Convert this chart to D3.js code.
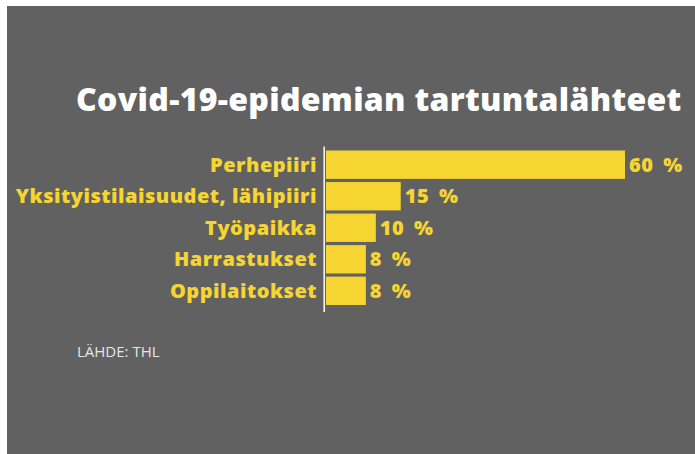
<!DOCTYPE html>
<html>
<head>
<meta charset="utf-8">
<script src="https://cdn.jsdelivr.net/npm/d3@7"></script>
<style>
  html, body { margin: 0; padding: 0; background: #ffffff; }
  svg { display: block; }
</style>
</head>
<body>
<svg id="chart" width="695" height="454"></svg>
<script>
// Sources of Covid-19 infections (share of cases, %)
const categories = ["Perhepiiri", "Yksityistilaisuudet, lähipiiri", "Työpaikka", "Harrastukset", "Oppilaitokset"];
const values = [60, 15, 10, 8, 8];
const titleText = "Covid-19-epidemian tartuntalähteet";
const sourceText = "LÄHDE: THL";

const W = 695, H = 454;
const bg = "#616161";
const yellow = "#f6d532";
const font = "'Open Sans', 'DejaVu Sans', sans-serif";

const svg = d3.select("#chart");

// Gray panel (white strip at left and top edges)
svg.append("rect").attr("x", 7).attr("y", 6).attr("width", W - 7).attr("height", H - 6).attr("fill", bg);

// Title
svg.append("text")
  .attr("x", 76).attr("y", 111)
  .attr("fill", "#ffffff")
  .attr("font-family", font)
  .attr("font-weight", 800)
  .attr("font-size", 32)
  .attr("letter-spacing", 0.3)
  .text(titleText);

// Scales
const x0 = 326;
const x = d3.scaleLinear().domain([0, 60]).range([x0, 625]);
const y = d3.scaleBand().domain(categories).range([150.5, 305]).paddingInner(0.1);

// Bars
svg.append("g").selectAll("rect")
  .data(categories)
  .join("rect")
  .attr("x", x(0))
  .attr("y", d => y(d))
  .attr("width", (d, i) => x(values[i]) - x(0))
  .attr("height", y.bandwidth())
  .attr("fill", yellow);

// Baseline
svg.append("line")
  .attr("x1", 324.2).attr("x2", 324.2)
  .attr("y1", 146.5).attr("y2", 312)
  .attr("stroke", "#f2f2f2").attr("stroke-width", 1.6);

// Category labels
const yAxis = d3.axisLeft(y).tickSize(0).tickPadding(0);
const gy = svg.append("g").attr("transform", "translate(317,0)").call(yAxis);
gy.select(".domain").remove();
gy.selectAll("text")
  .attr("fill", yellow)
  .attr("font-family", font)
  .attr("font-weight", 800)
  .attr("font-size", 20)
  .attr("letter-spacing", 0.5)
  .attr("dy", "0.36em");

// Value labels
svg.append("g").selectAll("text")
  .data(categories)
  .join("text")
  .attr("x", (d, i) => x(values[i]) + 4)
  .attr("y", d => y(d) + y.bandwidth() / 2)
  .attr("dy", "0.36em")
  .attr("fill", yellow)
  .attr("font-family", font)
  .attr("font-weight", 800)
  .attr("font-size", 20)
  .attr("letter-spacing", 0.5)
  .attr("word-spacing", 4)
  .text((d, i) => values[i] + " %");

// Source
svg.append("text")
  .attr("x", 77).attr("y", 357)
  .attr("fill", "#e6e6e6")
  .attr("font-family", font)
  .attr("font-size", 15)
  .text(sourceText);
</script>
</body>
</html>
